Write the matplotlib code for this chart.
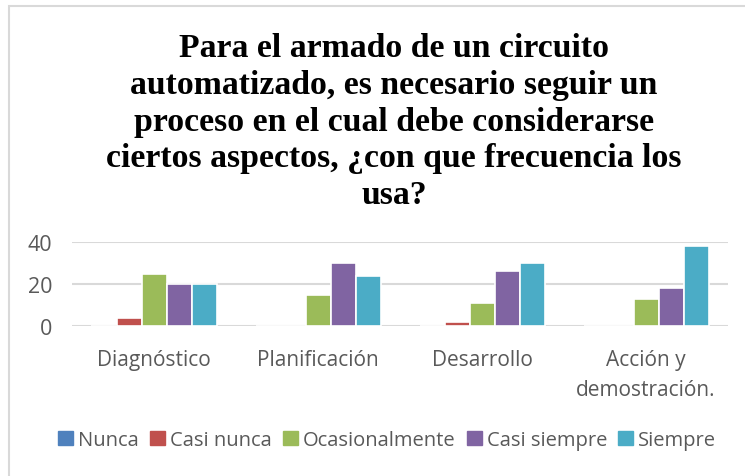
import matplotlib.pyplot as plt
import matplotlib.patches as mpatches
import numpy as np

# data
categories = ['Diagnóstico', 'Planificación', 'Desarrollo', 'Acción y\ndemostración.']
series_names = ['Nunca', 'Casi nunca', 'Ocasionalmente', 'Casi siempre', 'Siempre']
nunca = [0, 0, 0, 0]
casi_nunca = [4, 0, 2, 0]
ocasionalmente = [25, 15, 11, 13]
casi_siempre = [20, 30, 26, 18]
siempre = [20, 24, 30, 38]
yticks = [0, 20, 40]

colors = ['#4F81BD', '#C0504D', '#9BBB59', '#8064A2', '#4BACC6']
title = ('Para el armado de un circuito\nautomatizado, es necesario seguir un\n'
         'proceso en el cual debe considerarse\nciertos aspectos, ¿con que frecuencia los\nusa?')

W, H = 745, 477
fig = plt.figure(figsize=(W / 100, H / 100), dpi=100)

# plot area in pixels: left 72, right 728, top 243, bottom 327
ax = fig.add_axes([72 / W, 1 - 327 / H, (728 - 72) / W, (327 - 243) / H])

values = [nunca, casi_nunca, ocasionalmente, casi_siempre, siempre]
x = np.arange(len(categories))
step = 25 / 164
for i, (name, vals) in enumerate(zip(series_names, values)):
    ax.bar(x + (i - 2) * step, vals, width=step, color=colors[i],
           edgecolor='white', linewidth=1.2, label=name, zorder=3)

ax.set_xlim(-0.5, len(categories) - 0.5)
ax.set_ylim(0, 40)
ax.set_yticks(yticks)
ax.yaxis.grid(True, color='#D9D9D9', linewidth=1.5, zorder=0)
for s in ax.spines.values():
    s.set_visible(False)
ax.tick_params(length=0)
ax.set_yticklabels([str(t) for t in yticks], fontsize=15.5, color='#595959',
                   family='Open Sans')
ax.tick_params(axis='y', pad=14)
ax.set_xticks(x)
ax.set_xticklabels(categories, fontsize=15, color='#595959', family='Open Sans',
                   linespacing=1.55)
ax.tick_params(axis='x', pad=16.5)

fig.text(394 / W, 1 - 33 / H, title, ha='center', va='top', fontsize=24.3,
         fontweight='bold', family='Liberation Serif', linespacing=1.24)

handles = [mpatches.Patch(color=c, label=n) for c, n in zip(colors, series_names)]
fig.legend(handles=handles, loc='center', bbox_to_anchor=(387 / W, 1 - 441 / H),
           ncol=5, frameon=False, handlelength=0.75, handleheight=0.75,
           handletextpad=0.25, columnspacing=0.55,
           prop={'family': 'Open Sans', 'size': 14.5}, labelcolor='#595959')

# chart border
fig.patches.append(mpatches.Rectangle((8.5 / W, -0.1), 1.2, 1.1 - 6.5 / H,
                                      transform=fig.transFigure, fill=False,
                                      edgecolor='#D9D9D9', linewidth=1.5))

fig.savefig('out.png', dpi=100)
